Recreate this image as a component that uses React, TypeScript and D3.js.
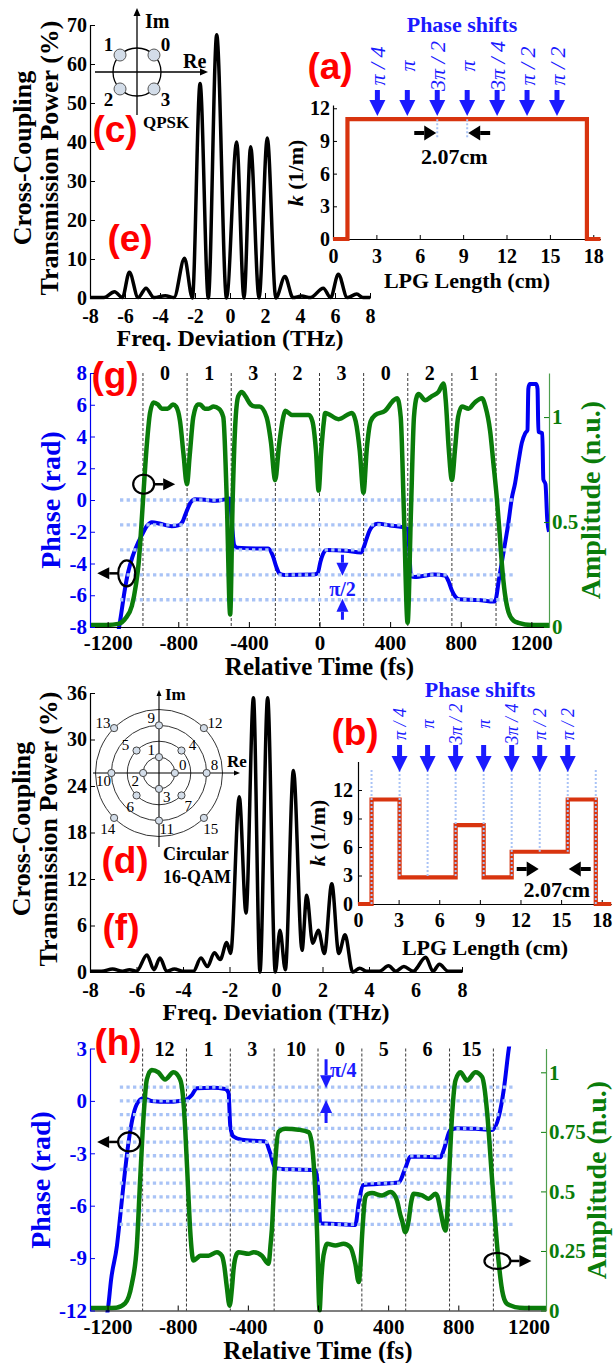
import React, { useEffect, useRef } from "react";
import * as d3 from "d3";

// ---------- values ----------

// spectra: [frequency deviation (THz), cross-coupling transmission power (%)]
const freqTicks = [-8, -6, -4, -2, 0, 2, 4, 6, 8];
const qpskPowerTicks = [0, 10, 20, 30, 40, 50, 60, 70];
const qamPowerTicks = [0, 6, 12, 18, 24, 30, 36];

const qpskSpectrum = [
  [-8, 0.1], [-7.2, 0.1], [-6.6, 1.6], [-6.15, 0.1], [-5.75, 6.6], [-5.25, 0.1],
  [-4.8, 2.5], [-4.35, 0.1], [-3.7, 0.6], [-3.2, 0.1], [-2.6, 10.2], [-2.15, 0],
  [-1.71, 55], [-1.24, 0], [-0.76, 67.5], [-0.2, 0], [0.38, 40], [0.8, 0],
  [1.18, 38.8], [1.66, 0], [2.13, 41], [2.62, 0], [3.14, 5.5], [3.6, 0.1],
  [4.1, 0.5], [4.6, 0.1], [5.33, 2.5], [5.75, 0.1], [6.19, 6.1], [6.7, 0.1],
  [7.24, 1.0], [7.6, 0.1], [8, 0.1],
];

const qamSpectrum = [
  [-8, 0.1], [-7.5, 0.1], [-7.03, 0.4], [-6.6, 0.1], [-6.3, 0.3], [-6.0, 0.1],
  [-5.55, 2.2], [-5.25, 0.3], [-4.99, 1.8], [-4.7, 0.1], [-4.37, 0.4], [-4.0, 0.1],
  [-3.55, 0.1], [-3.23, 1.8], [-2.95, 0.7], [-2.65, 2.5], [-2.4, 1.6], [-2.12, 3.8],
  [-1.95, 2.4], [-1.58, 22.6], [-1.29, 7.6], [-0.97, 35.4], [-0.69, 0], [-0.36, 35.4],
  [-0.03, 0], [0.17, 5.4], [0.4, 0.3], [0.75, 26], [1.12, 2.8], [1.32, 9.9],
  [1.58, 3.7], [1.82, 5.4], [2.08, 2.4], [2.4, 11.4], [2.7, 2.4], [2.97, 4.8],
  [3.3, 0], [3.6, 0.5], [3.9, 0.1], [4.45, 0.1], [4.84, 0.8], [5.15, 0.1],
  [5.5, 0.7], [5.9, 0.1], [6.44, 1.9], [6.75, 0.1], [7.03, 1.0], [7.4, 0.1], [8, 0.1],
];

// LPG coupling profiles: section edges (cm) and k per section (1/m)
const lpgEdges = [1.0, 3.07, 5.14, 7.21, 9.28, 11.35, 13.42, 15.49, 17.56];
const kQpsk = [11, 11, 11, 11, 11, 11, 11, 11];
const kQam = [11, 2.8, 2.8, 8.3, 2.8, 5.5, 5.5, 11];
const lengthTicks = [0, 3, 6, 9, 12, 15, 18];
const kTicks = [0, 3, 6, 9, 12];
const phaseShiftLabels = ["π / 4", "π", "3π / 2", "π", "3π / 4", "π / 2", "π / 2"];

// time domain output
const symbolEdges = [-1000, -750, -500, -250, 0, 250, 500, 750, 1000];
const timeTicks = [-1200, -800, -400, 0, 400, 800, 1200];
const qpskSymbols = ["0", "1", "3", "2", "3", "0", "2", "1"];
const qamSymbols = ["12", "1", "3", "10", "0", "5", "6", "15"];
const qpskPhaseTicks = [-8, -6, -4, -2, 0, 2, 4, 6, 8];
const qamPhaseTicks = [-12, -9, -6, -3, 0, 3];
const qpskAmpTicks = [0, 0.5, 1];
const qamAmpTicks = [0, 0.25, 0.5, 0.75, 1];
const qpskLevels = [0, -1, -2, -3, -4]; // multiples of pi/2
const qamLevels = [1, 0, -1, -2, -3, -4, -5, -6, -7, -8, -9]; // multiples of pi/4

// [time (fs), phase (rad)]
const qpskPhase = [
  [-1300, -9], [-1150, -8.7], [-1140, -8.3], [-1125, -7.3], [-1105, -5.8], [-1085, -4.6],
  [-1060, -3.6], [-1040, -3.0], [-1006, -2.2], [-975, -1.6], [-950, -1.4], [-900, -1.5],
  [-837, -1.65], [-800, -1.6], [-775, -1.35], [-761, -0.95], [-745, -0.5], [-730, -0.15],
  [-704, 0.05], [-650, 0.02], [-591, -0.05], [-530, 0.05], [-508, 0.1], [-496, -1.5],
  [-483, -2.85], [-468, -3.0], [-350, -3.05], [-290, -3.05], [-265, -3.5], [-245, -4.2],
  [-225, -4.65], [-200, -4.72], [-30, -4.7], [-10, -4.6], [5, -3.9], [20, -3.4],
  [40, -3.15], [150, -3.2], [235, -3.3], [250, -3.0], [265, -2.5], [285, -1.9],
  [305, -1.6], [330, -1.5], [400, -1.6], [500, -1.8], [508, -3.0], [518, -4.8],
  [540, -4.85], [650, -4.7], [710, -4.75], [730, -5.1], [750, -5.7], [770, -6.1],
  [790, -6.25], [900, -6.3], [990, -6.4], [1000, -6.2], [1015, -5.1], [1043, -3.25],
  [1071, -1.36], [1089, 0.1], [1108, 1.07], [1127, 2.4], [1146, 3.6], [1165, 4.2],
  [1178, 4.4], [1183, 7.0], [1190, 7.3], [1228, 7.3], [1235, 7.0], [1240, 4.3],
  [1262, 4.2], [1268, 1.3], [1280, 1.0], [1290, -1.2], [1300, -2.0],
];

// [time (fs), amplitude (n.u.)]
const qpskAmp = [
  [-1300, 0.01], [-1200, 0.01], [-1140, 0.015], [-1100, 0.04], [-1063, 0.1], [-1040, 0.2],
  [-1025, 0.3], [-1010, 0.47], [-997, 0.64], [-978, 0.87], [-960, 1.02], [-940, 1.07],
  [-915, 1.06], [-893, 1.04], [-860, 1.04], [-830, 1.06], [-812, 1.05], [-790, 0.98],
  [-770, 0.82], [-751, 0.68], [-735, 0.82], [-715, 1.0], [-690, 1.06], [-676, 1.06],
  [-650, 1.04], [-629, 1.04], [-600, 1.05], [-570, 1.04], [-545, 1.0], [-525, 0.6],
  [-506, 0.06], [-492, 0.6], [-478, 0.95], [-460, 1.1], [-440, 1.12], [-420, 1.1],
  [-390, 1.06], [-364, 1.05], [-340, 1.05], [-300, 1.0], [-275, 0.88], [-251, 0.7],
  [-230, 0.86], [-205, 1.0], [-194, 1.03], [-156, 1.01], [-60, 1.01], [-40, 0.98],
  [-20, 0.84], [-5, 0.65], [10, 0.84], [25, 0.98], [32, 1.02], [108, 0.99],
  [184, 1.02], [205, 0.98], [228, 0.84], [249, 0.64], [268, 0.85], [290, 0.98],
  [316, 1.01], [372, 1.03], [420, 1.08], [440, 1.09], [460, 1.0], [478, 0.55],
  [499, 0.02], [518, 0.55], [535, 1.0], [552, 1.1], [561, 1.11], [599, 1.08],
  [637, 1.1], [674, 1.12], [703, 1.16], [715, 1.08], [732, 0.85], [750, 0.7],
  [768, 0.85], [785, 1.0], [807, 1.05], [844, 1.04], [880, 1.07], [920, 1.09],
  [940, 1.05], [967, 0.93], [985, 0.78], [1005, 0.61], [1020, 0.45], [1033, 0.3],
  [1050, 0.16], [1071, 0.07], [1100, 0.03], [1127, 0.02], [1200, 0.01], [1300, 0.01],
];

const qamPhase = [
  [-1215, -13], [-1196, -11.77], [-1180, -10.25], [-1147, -8.34], [-1128, -6.62],
  [-1110, -4.9], [-1081, -2.42], [-1053, -0.8], [-1024, -0.04], [-995, 0.15],
  [-950, 0.0], [-850, -0.05], [-790, 0.0], [-757, 0.05], [-719, 0.34], [-691, 0.73],
  [-600, 0.75], [-529, 0.68], [-510, 0.46], [-500, -1.47], [-482, -2.04], [-434, -2.23],
  [-301, -2.33], [-272, -3.0], [-244, -3.85], [-150, -3.92], [-15, -3.95], [4, -5.48],
  [13, -7.0], [100, -7.05], [213, -7.1], [232, -5.86], [260, -4.81], [350, -4.75],
  [460, -4.67], [498, -3.85], [527, -3.19], [600, -3.2], [698, -3.23], [717, -2.8],
  [755, -1.66], [793, -1.56], [900, -1.6], [993, -1.66], [1031, -0.9], [1059, 0.63],
  [1088, 3.0], [1100, 3.8],
];

const qamAmp = [
  [-1300, 0.01], [-1150, 0.012], [-1100, 0.03], [-1062, 0.11], [-1033, 0.27], [-1014, 0.55],
  [-995, 0.81], [-976, 0.97], [-948, 1.01], [-910, 1.0], [-872, 0.97], [-824, 1.0],
  [-786, 0.97], [-770, 0.9], [-757, 0.76], [-740, 0.5], [-729, 0.34], [-710, 0.21],
  [-690, 0.22], [-672, 0.23], [-624, 0.23], [-576, 0.245], [-548, 0.23], [-535, 0.19],
  [-520, 0.1], [-504, 0.02], [-490, 0.1], [-482, 0.17], [-465, 0.235], [-453, 0.245],
  [-396, 0.238], [-367, 0.245], [-320, 0.23], [-290, 0.2], [-282, 0.196], [-270, 0.28],
  [-263, 0.34], [-244, 0.62], [-225, 0.75], [-187, 0.763], [-111, 0.759], [-54, 0.749],
  [-35, 0.7], [-25, 0.62], [-6, 0.34], [9, 0.0], [18, 0.12], [26, 0.2], [40, 0.26],
  [51, 0.28], [99, 0.273], [146, 0.28], [184, 0.266], [213, 0.196], [232, 0.12],
  [243, 0.2], [251, 0.31], [270, 0.476], [285, 0.49], [308, 0.493], [365, 0.483],
  [413, 0.497], [440, 0.48], [451, 0.46], [470, 0.4], [479, 0.378], [498, 0.329],
  [517, 0.378], [530, 0.45], [546, 0.49], [594, 0.483], [631, 0.469], [670, 0.49],
  [685, 0.47], [698, 0.42], [727, 0.336], [740, 0.45], [746, 0.546], [765, 0.826],
  [784, 0.966], [812, 1.0], [850, 0.966], [898, 1.0], [936, 0.98], [950, 0.93],
  [965, 0.826], [993, 0.546], [1022, 0.266], [1050, 0.084], [1075, 0.03], [1098, 0.021],
  [1150, 0.012], [1300, 0.01],
];

// constellations (ring index, angle in degrees)
const qpskConstellation = [
  { label: "0", angle: 45 }, { label: "1", angle: 135 },
  { label: "2", angle: 225 }, { label: "3", angle: 315 },
];
const qamConstellation = [
  { label: "0", ring: 1, angle: 0 }, { label: "1", ring: 1, angle: 90 },
  { label: "2", ring: 1, angle: 180 }, { label: "3", ring: 1, angle: 270 },
  { label: "4", ring: 2, angle: 45 }, { label: "5", ring: 2, angle: 135 },
  { label: "6", ring: 2, angle: 225 }, { label: "7", ring: 2, angle: 315 },
  { label: "8", ring: 3, angle: 0 }, { label: "9", ring: 3, angle: 90 },
  { label: "10", ring: 3, angle: 180 }, { label: "11", ring: 3, angle: 270 },
  { label: "12", ring: 4, angle: 45 }, { label: "13", ring: 4, angle: 135 },
  { label: "14", ring: 4, angle: 225 }, { label: "15", ring: 4, angle: 315 },
];

// ---------- styling ----------
const SERIF = "'Liberation Serif','Times New Roman',Times,serif";
const SANS = "'Liberation Sans',Arial,Helvetica,sans-serif";
const BLUE = "#0000f2";
const GREEN = "#0a7c0a";
const AXIS_GREEN = "#4f9f4f";
const RED = "#d8340f";
const DOT = "#a9c3f6";
const ARROW_BLUE = "#1a1aff";

function addText(g, x, y, txt, size, o: any = {}) {
  const t = g.append("text")
    .attr("x", x).attr("y", y)
    .attr("font-family", o.family || SERIF)
    .attr("font-size", size)
    .attr("font-weight", o.weight || "bold")
    .attr("font-style", o.italic ? "italic" : "normal")
    .attr("fill", o.fill || "#000")
    .attr("text-anchor", o.anchor || "middle")
    .text(txt);
  if (o.rotate) t.attr("transform", `rotate(${o.rotate},${x},${y})`);
  if (o.dy) t.attr("dy", o.dy);
  return t;
}

function styleAxis(g, color, size) {
  g.attr("font-family", SERIF).attr("font-size", size).attr("font-weight", "bold");
  g.selectAll(".tick text").attr("fill", color);
  g.selectAll(".tick line").attr("stroke", color);
  g.select(".domain").attr("stroke", color).attr("stroke-width", 1.2);
}

function arrow(g, x1, y1, x2, y2, color, shaft, headLen, headW) {
  const ang = Math.atan2(y2 - y1, x2 - x1);
  const bx = x2 - headLen * Math.cos(ang);
  const by = y2 - headLen * Math.sin(ang);
  g.append("line").attr("x1", x1).attr("y1", y1).attr("x2", bx).attr("y2", by)
    .attr("stroke", color).attr("stroke-width", shaft);
  const px = -Math.sin(ang) * headW / 2;
  const py = Math.cos(ang) * headW / 2;
  g.append("path")
    .attr("d", `M${x2},${y2}L${bx + px},${by + py}L${bx - px},${by - py}Z`)
    .attr("fill", color);
}

function panelTag(svg, x, y, txt) {
  addText(svg, x, y, txt, 37, { family: SANS, fill: "#ff0000" });
}

// ---------- spectrum panels ----------
function drawSpectrum(svg, o) {
  const x = d3.scaleLinear().domain([-8, 8]).range([o.left, o.right]);
  const y = d3.scaleLinear().domain([0, o.yMax]).range([o.bottom, o.top]);
  const g = svg.append("g");

  g.append("g").attr("transform", `translate(0,${o.bottom})`)
    .call(d3.axisBottom(x).tickValues(freqTicks).tickSize(-5).tickSizeOuter(0)
      .tickPadding(o.xPad).tickFormat((d) => String(d)))
    .call((s) => styleAxis(s, "#000", 20));
  g.append("g").attr("transform", `translate(${o.left},0)`)
    .call(d3.axisLeft(y).tickValues(o.yTicks).tickSize(-5).tickSizeOuter(0)
      .tickPadding(3).tickFormat((d) => String(d)))
    .call((s) => styleAxis(s, "#000", 20));

  const line = d3.line().x((d: any) => x(d[0])).y((d: any) => y(d[1])).curve(d3.curveMonotoneX);
  g.append("path").datum(o.data).attr("d", line)
    .attr("fill", "none").attr("stroke", "#000").attr("stroke-width", 3.5)
    .attr("stroke-linejoin", "round");

  addText(g, o.title1X, o.titleY, "Cross-Coupling", 26, { rotate: -90 });
  addText(g, o.title2X, o.titleY, "Transmission Power (%)", 26, { rotate: -90 });
  addText(g, (o.left + o.right) / 2, o.xTitleY, "Freq. Deviation (THz)", 24);
}

// ---------- LPG coupling profile panels ----------
function drawLpg(svg, o) {
  const x = d3.scaleLinear().domain([0, o.xMax]).range([o.left, o.right]);
  const y = d3.scaleLinear().domain([0, o.yMax]).range([o.bottom, o.top]);
  const g = svg.append("g");

  g.append("g").attr("transform", `translate(0,${o.bottom})`)
    .call(d3.axisBottom(x).tickValues(lengthTicks).tickSize(-4).tickSizeOuter(0)
      .tickPadding(o.xPad).tickFormat((d) => String(d)))
    .call((s) => styleAxis(s, "#000", 20));
  g.append("g").attr("transform", `translate(${o.left},0)`)
    .call(d3.axisLeft(y).tickValues(kTicks).tickSize(-4).tickSizeOuter(0)
      .tickPadding(o.yPad).tickFormat((d) => String(d)))
    .call((s) => styleAxis(s, "#000", 20));

  const pts = [[0, 0], ...lpgEdges.map((e, i) => [e, i < o.k.length ? o.k[i] : 0]), [o.xMax, 0]];
  const line = d3.line().x((d: any) => x(d[0])).y((d: any) => y(d[1])).curve(d3.curveStepAfter);
  g.append("path").datum(pts).attr("d", line)
    .attr("fill", "none").attr("stroke", RED).attr("stroke-width", 4.2)
    .attr("stroke-linejoin", "miter");

  // dotted guides at section edges
  const guideIdx = o.allGuides ? lpgEdges.map((_, i) => i) : [o.dimFrom, o.dimFrom + 1];
  guideIdx.forEach((i) => {
    const kl = i === 0 ? 0 : o.k[i - 1];
    const kr = i >= o.k.length ? 0 : o.k[i];
    const yTop = o.allGuides ? o.guideTop : y(Math.max(kl, kr));
    const yBot = o.allGuides ? y(Math.min(kl, kr)) : y(Math.max(kl, kr)) + 18;
    g.append("line").attr("x1", x(lpgEdges[i])).attr("x2", x(lpgEdges[i]))
      .attr("y1", yTop).attr("y2", yBot)
      .attr("stroke", DOT).attr("stroke-width", 2).attr("stroke-dasharray", "2,2");
  });

  // 2.07 cm section length marker
  const xa = x(lpgEdges[o.dimFrom]);
  const xb = x(lpgEdges[o.dimFrom + 1]);
  arrow(g, xa - 23, o.dimY, xa - 1, o.dimY, "#000", 4, 12, 15);
  arrow(g, xb + 23, o.dimY, xb + 1, o.dimY, "#000", 4, 12, 15);
  addText(g, (xa + xb) / 2 + o.dimTextDx, o.dimTextY, "2.07cm", 22);

  // phase-shift arrows
  lpgEdges.slice(1, 8).forEach((e, i) => {
    arrow(g, x(e), o.arrowTop, x(e), o.arrowTip, ARROW_BLUE, 5, 16, 16);
    addText(g, x(e), o.labelY, phaseShiftLabels[i], o.labelSize,
      { rotate: -90, weight: "normal", italic: true, fill: ARROW_BLUE, dy: "0.35em" });
  });
  addText(g, o.headerX, o.headerY, "Phase shifts", 22, { fill: ARROW_BLUE });

  const kt = addText(g, o.yTitleX, o.yTitleY, "", 22, { rotate: -90 });
  kt.append("tspan").attr("font-style", "italic").text("k");
  kt.append("tspan").text(" (1/m)");
  addText(g, o.xTitleX, o.xTitleY, "LPG Length (cm)", 22);
}

// ---------- time-domain panels ----------
function drawTime(svg, o) {
  const x = d3.scaleLinear().domain([-1300, 1300]).range([o.left, o.right]);
  const yP = d3.scaleLinear().domain(o.phaseDomain).range([o.bottom, o.top]);
  const yA = d3.scaleLinear().domain([0, o.ampMax]).range([o.bottom, o.top]);
  const g = svg.append("g");

  const clipId = o.id + "-clip";
  svg.append("clipPath").attr("id", clipId).append("rect")
    .attr("x", o.left).attr("y", o.top - 2)
    .attr("width", o.right - o.left).attr("height", o.bottom - o.top + 4);
  const plot = g.append("g").attr("clip-path", `url(#${clipId})`);

  plot.selectAll(".edge").data(symbolEdges).join("line")
    .attr("x1", (d) => x(d)).attr("x2", (d) => x(d))
    .attr("y1", o.top).attr("y2", o.bottom)
    .attr("stroke", "#222").attr("stroke-width", 0.9).attr("stroke-dasharray", "3,2");

  const lineP = d3.line().x((d: any) => x(d[0])).y((d: any) => yP(d[1])).curve(d3.curveMonotoneX);
  plot.append("path").datum(o.phase).attr("d", lineP)
    .attr("fill", "none").attr("stroke", BLUE).attr("stroke-width", 4)
    .attr("stroke-linejoin", "round");

  plot.selectAll(".lvl").data(o.levels).join("line")
    .attr("x1", x(-1130)).attr("x2", x(1110))
    .attr("y1", (d) => yP(d * o.levelStep)).attr("y2", (d) => yP(d * o.levelStep))
    .attr("stroke", DOT).attr("stroke-width", 3.3).attr("stroke-dasharray", "3.3,3.3");

  const lineA = d3.line().x((d: any) => x(d[0])).y((d: any) => yA(d[1])).curve(d3.curveMonotoneX);
  plot.append("path").datum(o.amp).attr("d", lineA)
    .attr("fill", "none").attr("stroke", GREEN).attr("stroke-width", 4.5)
    .attr("stroke-linejoin", "round");

  // axes
  g.append("g").attr("transform", `translate(0,${o.bottom})`)
    .call(d3.axisBottom(x).tickValues(timeTicks).tickSize(-5).tickSizeOuter(0)
      .tickPadding(o.xPad).tickFormat((d) => String(d)))
    .call((s) => styleAxis(s, "#000", 21));
  g.append("g").attr("transform", `translate(${o.left},0)`)
    .call(d3.axisLeft(yP).tickValues(o.phaseTicks).tickSize(-5).tickSizeOuter(0)
      .tickPadding(3).tickFormat((d) => String(d)))
    .call((s) => styleAxis(s, BLUE, 21));
  g.append("g").attr("transform", `translate(${o.right},0)`)
    .call(d3.axisRight(yA).tickValues(o.ampTicks).tickSize(-5).tickSizeOuter(0)
      .tickPadding(3).tickFormat((d) => String(d)))
    .call((s) => styleAxis(s, GREEN, 21))
    .call((s) => s.select(".domain").attr("stroke", AXIS_GREEN));

  // symbol labels
  o.symbols.forEach((s, i) => {
    addText(g, x((symbolEdges[i] + symbolEdges[i + 1]) / 2), o.top + 7, s, 20);
  });

  // axis markers (circle + arrow)
  o.markers.forEach((m) => {
    const cx = x(m.t);
    const cy = m.on === "amp" ? yA(m.v) : yP(m.v);
    g.append("ellipse").attr("cx", cx).attr("cy", cy).attr("rx", m.rx).attr("ry", m.ry)
      .attr("fill", "none").attr("stroke", "#000").attr("stroke-width", 2.2);
    const sx = cx + m.dir * m.rx;
    arrow(g, sx, cy, sx + m.dir * 21, cy, "#000", 2.5, 12, 12);
  });

  // phase step annotation
  const n = o.note;
  const xn = x(n.t);
  const yu = yP(n.upper);
  const yl = yP(n.lower);
  arrow(g, xn, yu - n.len1, xn + 0.01, yu + 1, ARROW_BLUE, 3, 13, 12);
  arrow(g, xn, yl + n.len2, xn + 0.01, yl - 1, ARROW_BLUE, 3, 13, 12);
  addText(g, xn + n.textDx, n.textY, n.text, 20, { fill: ARROW_BLUE, anchor: n.anchor });

  addText(g, o.phaseTitleX, o.titleY, "Phase (rad)", 28, { rotate: -90, fill: BLUE });
  addText(g, o.ampTitleX, o.titleY, "Amplitude (n.u.)", 28, { rotate: -90, fill: GREEN });
  addText(g, (o.left + o.right) / 2, o.xTitleY, "Relative Time (fs)", 25);
}

// ---------- constellations ----------
function drawQpsk(svg) {
  const cx = 137, cy = 72;
  const r = d3.scaleLinear().domain([0, 1]).range([0, 24]);
  const g = svg.append("g");
  arrow(g, 95, cy, 208, cy, "#000", 1.3, 8, 7);
  arrow(g, cx, 115, cx, 8, "#000", 1.3, 8, 7);
  g.append("circle").attr("cx", cx).attr("cy", cy).attr("r", r(1))
    .attr("fill", "none").attr("stroke", "#000").attr("stroke-width", 1.3);
  qpskConstellation.forEach((p) => {
    const a = (p.angle * Math.PI) / 180;
    g.append("circle").attr("cx", cx + r(1) * Math.cos(a)).attr("cy", cy - r(1) * Math.sin(a))
      .attr("r", 6).attr("fill", "#d3dde9").attr("stroke", "#555").attr("stroke-width", 1);
    addText(g, cx + r(1.68) * Math.cos(a), cy - r(1.6) * Math.sin(a), p.label, 19, { dy: "0.35em" });
  });
  addText(g, 145, 28, "Im", 20, { anchor: "start" });
  addText(g, 183, 68, "Re", 20, { anchor: "start" });
  addText(g, 143, 128, "QPSK", 17, { anchor: "start" });
}

function qamLabelAngle(angle) {
  if (angle % 90 === 0) return angle + 45;
  if (angle === 45) return 27;
  if (angle === 135) return 153;
  if (angle === 225) return 240;
  return 303;
}

function drawQam(svg) {
  const cx = 159, cy = 773;
  const r = d3.scaleLinear().domain([0, 4]).range([0, 63.5]);
  const g = svg.append("g");
  [1, 2, 3, 4].forEach((k) => {
    g.append("circle").attr("cx", cx).attr("cy", cy).attr("r", r(k))
      .attr("fill", "none").attr("stroke", "#333").attr("stroke-width", 1);
  });
  arrow(g, cx - 66, cy, cx + 81, cy, "#000", 1.1, 6, 5);
  arrow(g, cx, cy + 74, cx, cy - 83, "#000", 1.1, 6, 5);
  qamConstellation.forEach((p) => {
    const a = (p.angle * Math.PI) / 180;
    const px = cx + r(p.ring) * Math.cos(a);
    const py = cy - r(p.ring) * Math.sin(a);
    g.append("circle").attr("cx", px).attr("cy", py).attr("r", 3.6)
      .attr("fill", "#d3dde9").attr("stroke", "#444").attr("stroke-width", 1);
    const la = (qamLabelAngle(p.angle) * Math.PI) / 180;
    const d = p.angle % 90 === 0 ? 11 : 12.5;
    addText(g, px + d * Math.cos(la), py - d * Math.sin(la), p.label, 15,
      { weight: "normal", dy: "0.35em" });
  });
  addText(g, 165, 700, "Im", 17, { anchor: "start" });
  addText(g, 227, 767, "Re", 17, { anchor: "start" });
  addText(g, 163, 860, "Circular", 18, { anchor: "start" });
  addText(g, 163, 883, "16-QAM", 18, { anchor: "start" });
}

function draw(svgEl) {
  const svg = d3.select(svgEl);
  svg.selectAll("*").remove();

  // (c)/(e) QPSK spectrum
  drawSpectrum(svg, {
    data: qpskSpectrum, left: 90, right: 370, top: 25, bottom: 298, yMax: 70,
    yTicks: qpskPowerTicks, xPad: 11, title1X: 31, title2X: 58, titleY: 158, xTitleY: 346,
  });
  drawQpsk(svg);

  // (a) uniform LPG
  drawLpg(svg, {
    k: kQpsk, left: 333, right: 600.5, xMax: 18.5, top: 105, bottom: 239, yMax: 12.3,
    xPad: 10, yPad: 3, allGuides: false, dimFrom: 3, dimY: 133, dimTextY: 164, dimTextDx: 2,
    arrowTop: 90, arrowTip: 116, labelY: 66, labelSize: 22, headerX: 462, headerY: 32,
    yTitleX: 303, yTitleY: 173, xTitleX: 467, xTitleY: 288,
  });

  // (g) QPSK time domain
  drawTime(svg, {
    id: "g", left: 90, right: 549, top: 373, bottom: 627, phaseDomain: [-8, 8], ampMax: 1.21,
    phaseTicks: qpskPhaseTicks, ampTicks: qpskAmpTicks, levels: qpskLevels, levelStep: Math.PI / 2,
    phase: qpskPhase, amp: qpskAmp, symbols: qpskSymbols, xPad: 8,
    phaseTitleX: 60, ampTitleX: 600, titleY: 500, xTitleY: 675,
    markers: [
      { t: -1092, v: -4.62, on: "phase", rx: 8.5, ry: 13, dir: -1 },
      { t: -996, v: 0.68, on: "amp", rx: 10.5, ry: 9.5, dir: 1 },
    ],
    note: { t: 130, upper: -1.5 * Math.PI, lower: -2 * Math.PI, len1: 20, len2: 20,
      text: "π/2", textDx: 0, textY: 596, anchor: "middle" },
  });

  // (d)/(f) 16-QAM spectrum
  drawSpectrum(svg, {
    data: qamSpectrum, left: 90, right: 462, top: 693, bottom: 972, yMax: 36,
    yTicks: qamPowerTicks, xPad: 11, title1X: 30, title2X: 57, titleY: 829, xTitleY: 1020,
  });
  drawQam(svg);

  // (b) 16-QAM LPG
  drawLpg(svg, {
    k: kQam, left: 358, right: 611.2, xMax: 18.7, top: 761.5, bottom: 904, yMax: 15,
    xPad: 9, yPad: 5, allGuides: true, guideTop: 770, dimFrom: 6, dimY: 869, dimTextY: 897,
    dimTextDx: 3, arrowTop: 745, arrowTip: 772, labelY: 724, labelSize: 18,
    headerX: 480, headerY: 697, yTitleX: 325, yTitleY: 833, xTitleX: 485, xTitleY: 955,
  });

  // (h) 16-QAM time domain
  drawTime(svg, {
    id: "h", left: 90, right: 546, top: 1048.5, bottom: 1310.5, phaseDomain: [-12, 3], ampMax: 1.1,
    phaseTicks: qamPhaseTicks, ampTicks: qamAmpTicks, levels: qamLevels, levelStep: Math.PI / 4,
    phase: qamPhase, amp: qamAmp, symbols: qamSymbols, xPad: 9,
    phaseTitleX: 50, ampTitleX: 606, titleY: 1180, xTitleY: 1359,
    markers: [
      { t: -1077, v: -2.35, on: "phase", rx: 11, ry: 9.5, dir: -1 },
      { t: 1023, v: 0.208, on: "amp", rx: 13, ry: 8, dir: 1 },
    ],
    note: { t: 46, upper: Math.PI / 4, lower: 0, len1: 28, len2: 22,
      text: "π/4", textDx: 4, textY: 1077, anchor: "start" },
  });

  panelTag(svg, 115, 142, "(c)");
  panelTag(svg, 130, 251, "(e)");
  panelTag(svg, 330, 79, "(a)");
  panelTag(svg, 115, 388, "(g)");
  panelTag(svg, 125, 873, "(d)");
  panelTag(svg, 121, 940, "(f)");
  panelTag(svg, 355, 745, "(b)");
  panelTag(svg, 118, 1055, "(h)");
}

export default function App() {
  const ref = useRef<SVGSVGElement>(null);
  useEffect(() => {
    if (ref.current) draw(ref.current);
  }, []);
  return (
    <svg
      ref={ref}
      width={613}
      height={1363}
      style={{ position: "absolute", left: 0, top: 0, background: "#fff" }}
    />
  );
}
